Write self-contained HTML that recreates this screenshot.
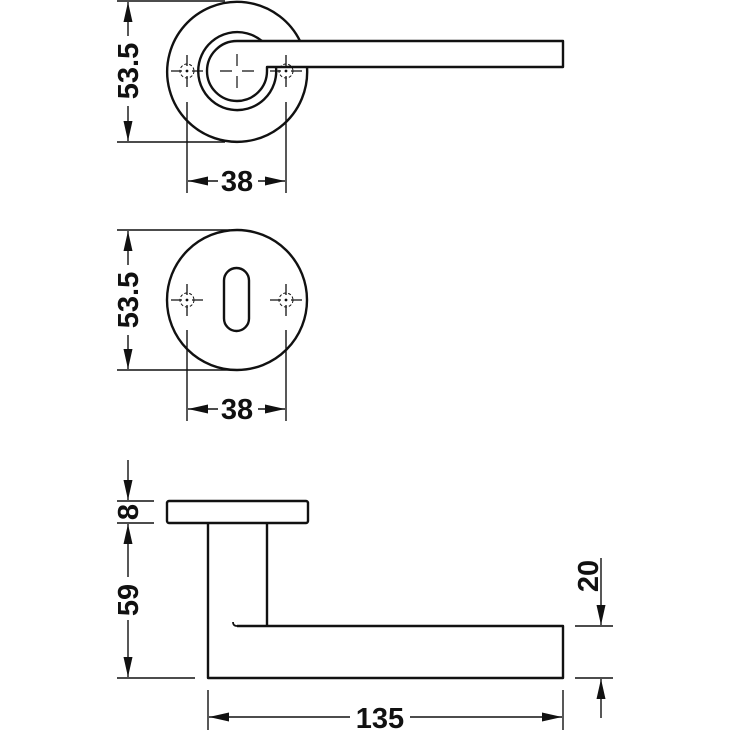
<!DOCTYPE html>
<html><head><style>
html,body{margin:0;padding:0;background:#fff;}
svg{display:block;}
text{font-family:"Liberation Sans",Arial,sans-serif;font-weight:bold;font-size:29px;fill:#111;}
</style></head><body>
<svg width="730" height="730" viewBox="0 0 730 730" xmlns="http://www.w3.org/2000/svg">
<defs>
<marker id="a" viewBox="0 0 20 10" refX="20" refY="5" markerWidth="20" markerHeight="9" markerUnits="userSpaceOnUse" orient="auto" preserveAspectRatio="none"><path d="M0,0 L20,5 L0,10 Z" fill="#111"/></marker>
<g id="screw">
<circle r="7" fill="none" stroke="#111" stroke-width="1" stroke-dasharray="3,2"/>
<circle r="1.4" fill="#111"/>
<path d="M-16,0 H-5 M5,0 H16 M0,-16 V-5 M0,5 V16" stroke="#111" stroke-width="1.3"/>
</g>
</defs>
<g fill="none" stroke="#111" stroke-width="2.4" stroke-linejoin="round">
<path d="M307,67 A70,70 0 1 1 300,41"/>
<path d="M276,67 A39,39 0 1 1 262,41"/>
<path d="M267,67 L267,71 A30,30 0 1 1 237,41 L563,41 L563,67 Z"/>
<circle cx="237" cy="300" r="70"/>
<rect x="224" y="268" width="25" height="63" rx="12.5"/>
<rect x="167" y="501" width="141" height="22" rx="2"/>
<path d="M208,523 V678 H563 V626 H237 M267,523 V626"/>
<path d="M237,626 Q233,626 233,622" stroke-width="1.8"/>
</g>
<g stroke="#111" stroke-width="1.2">
<path d="M220,71 H232 M242,71 H254 M237,54 V66 M237,76 V88"/>
</g>
<use href="#screw" x="187" y="71"/>
<use href="#screw" x="286" y="71"/>
<use href="#screw" x="187" y="300"/>
<use href="#screw" x="286" y="300"/>
<g stroke="#111" stroke-width="1.4" fill="none">
<path d="M117,1 H225 M117,142 H225"/>
<path d="M187,102 V193 M286,102 V193"/>
<path d="M128,36 V2" marker-end="url(#a)"/>
<path d="M128,106 V141" marker-end="url(#a)"/>
<path d="M218,181 H188" marker-end="url(#a)"/>
<path d="M258,181 H285" marker-end="url(#a)"/>
<path d="M117,230 H230 M117,370 H230"/>
<path d="M187,330 V421 M286,330 V421"/>
<path d="M128,265 V231" marker-end="url(#a)"/>
<path d="M128,335 V369" marker-end="url(#a)"/>
<path d="M218,409 H188" marker-end="url(#a)"/>
<path d="M258,409 H285" marker-end="url(#a)"/>
<path d="M117,501 H154 M117,523 H154 M117,678 H195"/>
<path d="M128,460 V500" marker-end="url(#a)"/>
<path d="M128,577 V524" marker-end="url(#a)"/>
<path d="M128,620 V677" marker-end="url(#a)"/>
<path d="M575,626 H613 M575,678 H613"/>
<path d="M601,558 V625" marker-end="url(#a)"/>
<path d="M601,718 V679" marker-end="url(#a)"/>
<path d="M208,690 V730 M563,690 V730"/>
<path d="M350,717 H209" marker-end="url(#a)"/>
<path d="M410,717 H562" marker-end="url(#a)"/>
</g>
<text x="128" y="71" text-anchor="middle" transform="rotate(-90 128 71)" dy="10">53.5</text>
<text x="237" y="191" text-anchor="middle">38</text>
<text x="128" y="300" text-anchor="middle" transform="rotate(-90 128 300)" dy="10">53.5</text>
<text x="237" y="419" text-anchor="middle">38</text>
<text x="128" y="512" text-anchor="middle" transform="rotate(-90 128 512)" dy="10">8</text>
<text x="128" y="600" text-anchor="middle" transform="rotate(-90 128 600)" dy="10">59</text>
<text x="588" y="576" text-anchor="middle" transform="rotate(-90 588 576)" dy="10">20</text>
<text x="380" y="728" text-anchor="middle">135</text>
</svg>
</body></html>
